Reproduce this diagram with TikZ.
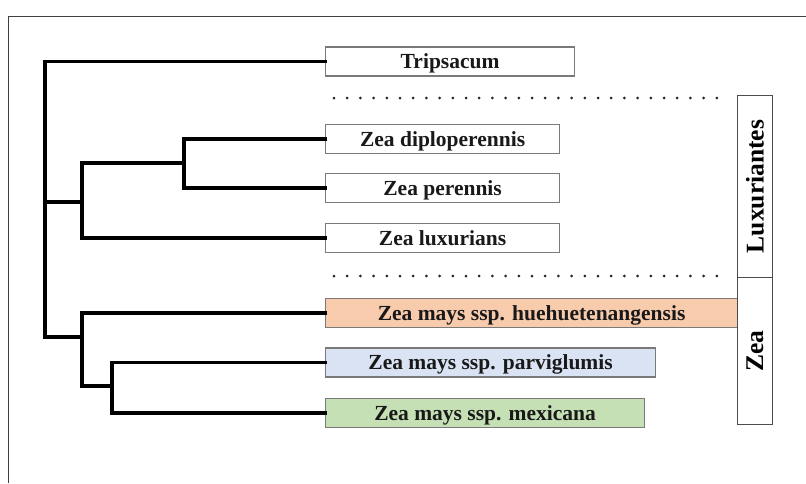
\documentclass[tikz,border=0pt]{standalone}
\usepackage{fontspec}
\newfontfamily\labfont{Liberation Serif}
\definecolor{peach}{HTML}{F8CBAD}
\definecolor{paleblue}{HTML}{DAE3F3}
\definecolor{palegreen}{HTML}{C5E0B4}
\definecolor{boxline}{HTML}{7A7A7A}
\tikzset{
  taxon/.style={draw=boxline, line width=1.2pt, minimum height=29pt, inner sep=0pt,
    text height=14pt, text depth=0pt,
    font=\labfont\bfseries\fontsize{21.5}{24}\selectfont, anchor=west, text=black!90},
  tree/.style={line width=3.6pt, line join=miter, line cap=rect},
  groupbox/.style={draw=black!70, line width=1pt, minimum width=35pt, inner sep=0pt,
    font=\labfont\bfseries\fontsize{25.5}{28}\selectfont, anchor=north west},
  sep/.style={line width=3pt, line cap=round, dash pattern=on 0pt off 13.2pt, black!85}
}
\begin{document}
\begin{tikzpicture}[x=1pt, y=-1pt]
  \useasboundingbox (0,0) rectangle (806,483);
  \fill[white] (0,0) rectangle (806,483);
  % outer frame (only its top and left edges fall inside the page)
  \draw[black!75, line width=1pt] (8,483) -- (8,16) -- (806,16);

  % taxon boxes
  \node[taxon, minimum width=249pt] (trip) at (325,61.5) {Tripsacum};
  \node[taxon, minimum width=234pt] (diplo) at (325,139) {Zea diploperennis};
  \node[taxon, minimum width=234pt] (per) at (325,188) {Zea perennis};
  \node[taxon, minimum width=234pt] (lux) at (325,238) {Zea luxurians};
  \node[taxon, minimum width=412pt, fill=peach] (hue) at (325,313) {Zea mays ssp. huehuetenangensis};
  \node[taxon, minimum width=330pt, fill=paleblue] (parv) at (325,362.5) {Zea mays ssp. parviglumis};
  \node[taxon, minimum width=319pt, fill=palegreen] (mex) at (325,413) {Zea mays ssp. mexicana};

  % group labels on the right
  \node[groupbox, minimum height=182pt] (gLux) at (737,95) {\rotatebox{90}{Luxuriantes}};
  \node[groupbox, minimum height=147pt] (gZea) at (737,277) {\rotatebox{90}{Zea}};

  % dotted separators
  \coordinate (s1a) at (334,98);  \coordinate (s1b) at (718,98);
  \coordinate (s2a) at (334,276); \coordinate (s2b) at (718,276);
  \draw[sep] (s1a) -- (s1b);
  \draw[sep] (s2a) -- (s2b);

  % internal nodes of the tree
  \coordinate (R) at (45,202);
  \coordinate (A) at (82,202);
  \coordinate (B) at (184,163);
  \coordinate (C) at (82,337);
  \coordinate (D) at (112,386);

  % branches
  \draw[tree] (trip.west) -| (R) |- (C);
  \draw[tree] (R) -- (A);
  \draw[tree] (diplo.west) -| (B) |- (per.west);
  \draw[tree] (B) -| (A) |- (lux.west);
  \draw[tree] (hue.west) -| (C) |- (D);
  \draw[tree] (parv.west) -| (D) |- (mex.west);
\end{tikzpicture}
\end{document}
